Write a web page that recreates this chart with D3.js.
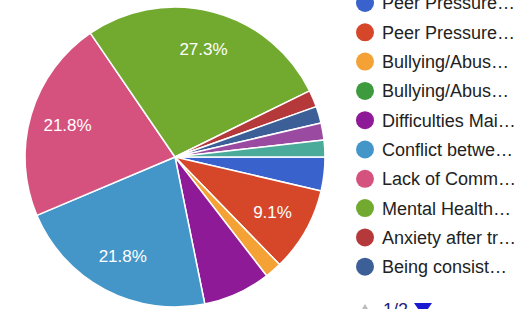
<!DOCTYPE html>
<html>
<head>
<meta charset="utf-8">
<script src="https://cdn.jsdelivr.net/npm/d3@7"></script>
<style>
  html, body { margin: 0; padding: 0; background: #fff; overflow: hidden; }
  svg { display: block; font-family: "Liberation Sans", Arial, sans-serif; }
</style>
</head>
<body>
<svg id="chart" width="529" height="309"></svg>
<script>
// Categories (legend text as truncated in the picture; last two are on legend page 2)
const categories = [
  "Peer Pressure…",
  "Peer Pressure…",
  "Bullying/Abus…",
  "Bullying/Abus…",
  "Difficulties Mai…",
  "Conflict betwe…",
  "Lack of Comm…",
  "Mental Health…",
  "Anxiety after tr…",
  "Being consist…",
  "(page 2 item 1)",
  "(page 2 item 2)"
];
// Response counts (55 responses total)
const values = [2, 5, 1, 0, 4, 12, 12, 15, 1, 1, 1, 1];
const colors = ["#3a62cc", "#d6472a", "#f4a236", "#3d9a3d", "#8e1a98", "#4596c8",
                "#d6527e", "#72aa30", "#b5393a", "#3b5f96", "#9a4aa0", "#4aab9a"];
const pagerText = "1/2";
const legendVisible = 10;

const svg = d3.select("#chart");
const cx = 175, cy = 157, r = 150;
const total = d3.sum(values);

const pie = d3.pie()
  .value(d => d.v)
  .sort(null)
  .startAngle(Math.PI / 2)
  .endAngle(Math.PI / 2 + 2 * Math.PI);

const data = categories.map((c, i) => ({ c, v: values[i], color: colors[i] }));
const arcs = pie(data);
const arc = d3.arc().innerRadius(0).outerRadius(r);
const labelArc = d3.arc().innerRadius(112).outerRadius(112);

const g = svg.append("g").attr("transform", `translate(${cx},${cy})`);
g.selectAll("path.slice")
  .data(arcs.filter(a => a.data.v > 0))
  .join("path")
  .attr("class", "slice")
  .attr("d", arc)
  .attr("fill", d => d.data.color)
  .attr("stroke", "#fff")
  .attr("stroke-width", 1.5)
  .attr("stroke-linejoin", "round");

g.selectAll("text.lbl")
  .data(arcs.filter(a => a.data.v / total >= 0.09))
  .join("text")
  .attr("class", "lbl")
  .attr("transform", d => `translate(${labelArc.centroid(d)})`)
  .attr("text-anchor", "middle")
  .attr("dy", "0.35em")
  .attr("fill", "#fff")
  .attr("font-size", 17)
  .text(d => (d.data.v / total * 100).toFixed(1) + "%");

// Legend
const lg = svg.append("g");
const rowY = d3.scaleLinear().domain([0, 1]).range([3, 32.3]);
const items = lg.selectAll("g.item")
  .data(data.slice(0, legendVisible))
  .join("g")
  .attr("class", "item")
  .attr("transform", (d, i) => `translate(0,${rowY(i)})`);
items.append("circle")
  .attr("cx", 365).attr("cy", 0).attr("r", 9)
  .attr("fill", d => d.color);
items.append("text")
  .attr("x", 382).attr("y", 0).attr("dy", "0.36em")
  .attr("font-size", 18)
  .attr("fill", "#222")
  .text(d => d.c);

// Pager
const pg = svg.append("g").attr("transform", "translate(0,314)");
pg.append("path").attr("d", "M359,0 L365,-10 L371,0 Z").attr("fill", "#bbb");
pg.append("text").attr("x", 383).attr("y", 2).attr("font-size", 18)
  .attr("fill", "#1a237e").text(pagerText);
pg.append("path").attr("d", "M414,-11 L432,-11 L423,2 Z").attr("fill", "#1a1ad0");
</script>
</body>
</html>
